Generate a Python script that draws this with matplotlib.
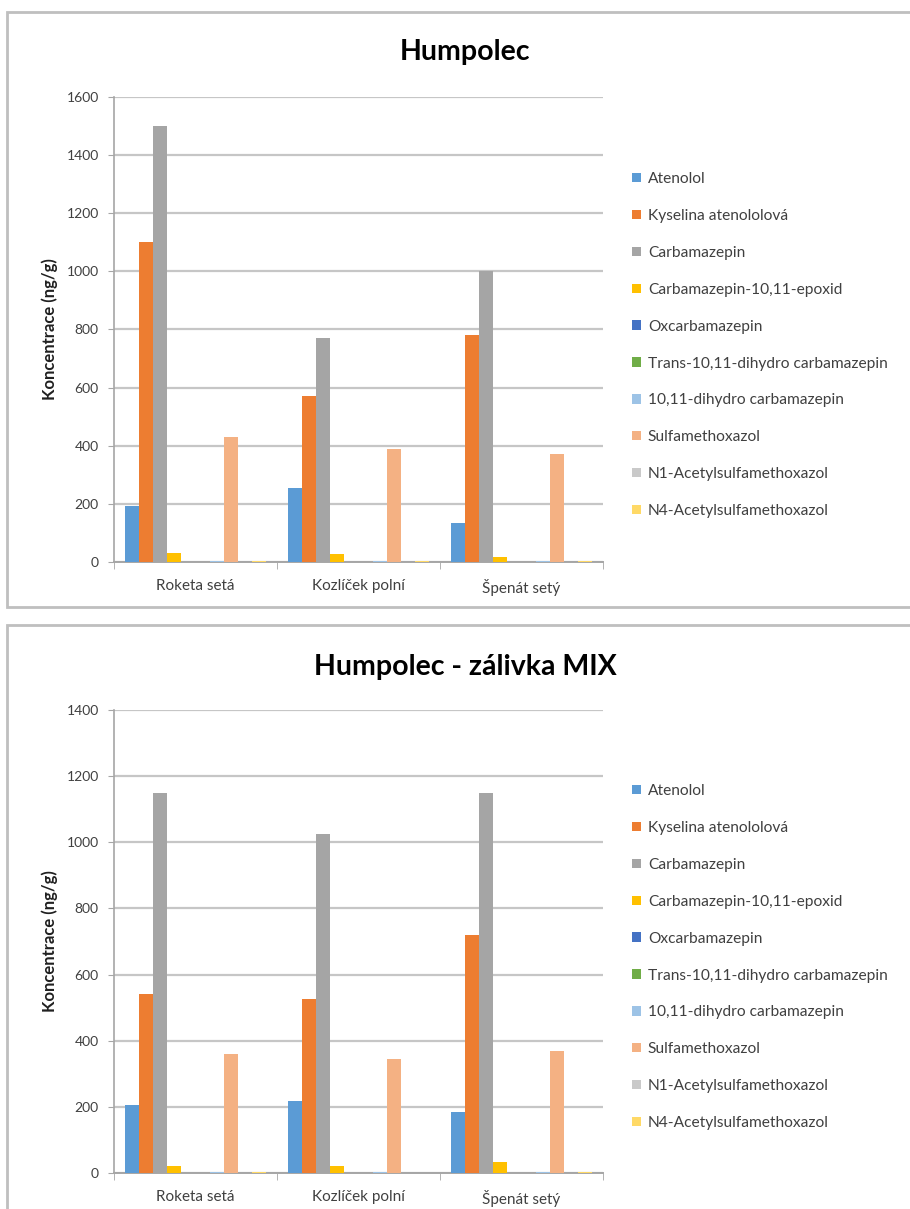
import matplotlib
matplotlib.use("Agg")
import matplotlib.pyplot as plt
from matplotlib.patches import Rectangle
import numpy as np

plt.rcParams['font.family'] = ['Lato', 'DejaVu Sans']

categories = ["Roketa setá", "Kozlíček polní", "Špenát setý"]
compounds = [
    "Atenolol", "Kyselina atenololová", "Carbamazepin", "Carbamazepin-10,11-epoxid",
    "Oxcarbamazepin", "Trans-10,11-dihydro carbamazepin", "10,11-dihydro carbamazepin",
    "Sulfamethoxazol", "N1-Acetylsulfamethoxazol", "N4-Acetylsulfamethoxazol",
]
colors = ["#5B9BD5", "#ED7D31", "#A5A5A5", "#FFC000", "#4472C4",
          "#70AD47", "#9DC3E6", "#F4B183", "#C9C9C9", "#FFD966"]

# Humpolec (ng/g), one list per compound over the three plants
humpolec = [
    [192, 253, 133],
    [1100, 570, 780],
    [1500, 770, 1000],
    [30, 28, 17],
    [0, 0, 0],
    [0, 0, 0],
    [5, 4, 4],
    [430, 390, 370],
    [0, 0, 0],
    [3, 3, 3],
]

# Humpolec - zálivka MIX (ng/g)
humpolec_mix = [
    [207, 217, 183],
    [540, 525, 720],
    [1150, 1025, 1150],
    [21, 21, 33],
    [0, 0, 0],
    [0, 0, 0],
    [4, 3, 4],
    [360, 345, 370],
    [0, 0, 0],
    [2, 0, 2],
]

W, H = 910, 1209
fig = plt.figure(figsize=(W / 100, H / 100), dpi=100)
fig.patch.set_facecolor("white")


def px_rect(x0, y0, x1, y1):
    return [x0 / W, 1 - y1 / H, (x1 - x0) / W, (y1 - y0) / H]


# panel frames
for (y0, y1) in [(12, 607), (625, 1215)]:
    r = Rectangle((7 / W, 1 - y1 / H), (W + 10) / W, (y1 - y0) / H,
                  transform=fig.transFigure, facecolor="white",
                  edgecolor="#BFBFBF", linewidth=2.0, zorder=-5)
    fig.patches.append(r)


def draw_panel(rect, data, ymax, title, title_y, legend_top):
    ax = fig.add_axes(rect)
    ax.set_zorder(2)
    ax.patch.set_alpha(0)
    n = len(compounds)
    slot = 1.0 / (n + 1.5)
    x = np.arange(len(categories))
    for i, (vals, c) in enumerate(zip(data, colors)):
        offs = (i - (n - 1) / 2) * slot
        ax.bar(x + offs, vals, width=slot, color=c, edgecolor="none",
               label=compounds[i], zorder=3)
    ax.set_xlim(-0.5, len(categories) - 0.5)
    ax.set_ylim(0, ymax)
    ax.set_yticks(np.arange(0, ymax + 1, 200))
    ax.tick_params(axis="y", labelsize=10, length=4, color="#A6A6A6",
                   labelcolor="#404040", pad=7)
    ax.yaxis.grid(True, color="#C6C6C6", linewidth=1.6, zorder=0)
    ax.set_axisbelow(True)
    ax.set_xticks(x)
    ax.set_xticklabels(categories, fontsize=11, color="#404040")
    ax.tick_params(axis="x", length=0, pad=12)
    ax.set_xticks(np.arange(-0.5, len(categories)), minor=True)
    ax.tick_params(axis="x", which="minor", length=5, color="#A6A6A6")
    for s in ["top", "right"]:
        ax.spines[s].set_visible(False)
    ax.spines["left"].set_color("#A6A6A6")
    ax.spines["bottom"].set_color("#A6A6A6")
    ax.spines["left"].set_linewidth(1.2)
    ax.spines["bottom"].set_linewidth(1.4)
    ax.set_ylabel("Koncentrace (ng/g)", fontsize=12, fontweight="bold",
                  color="#202020", labelpad=6)
    fig.text(465 / W, 1 - title_y / H, title,
             ha="center", va="center", fontsize=20.5, fontweight="bold",
             color="black")
    handles, labels = ax.get_legend_handles_labels()
    leg = fig.legend(handles, labels, loc="upper left",
                     bbox_to_anchor=(626 / W, 1 - legend_top / H),
                     frameon=False, fontsize=11.2, labelspacing=1.47,
                     handlelength=0.55, handleheight=0.55, handletextpad=0.45,
                     borderaxespad=0)
    for t in leg.get_texts():
        t.set_color("#404040")
    return ax


ax1 = draw_panel(px_rect(114, 97, 603, 562), humpolec, 1600, "Humpolec", 52, 166)
ax2 = draw_panel(px_rect(114, 710, 603, 1173), humpolec_mix, 1400,
                 "Humpolec - zálivka MIX", 667, 778)

fig.savefig("out.png", dpi=100, facecolor="white")
